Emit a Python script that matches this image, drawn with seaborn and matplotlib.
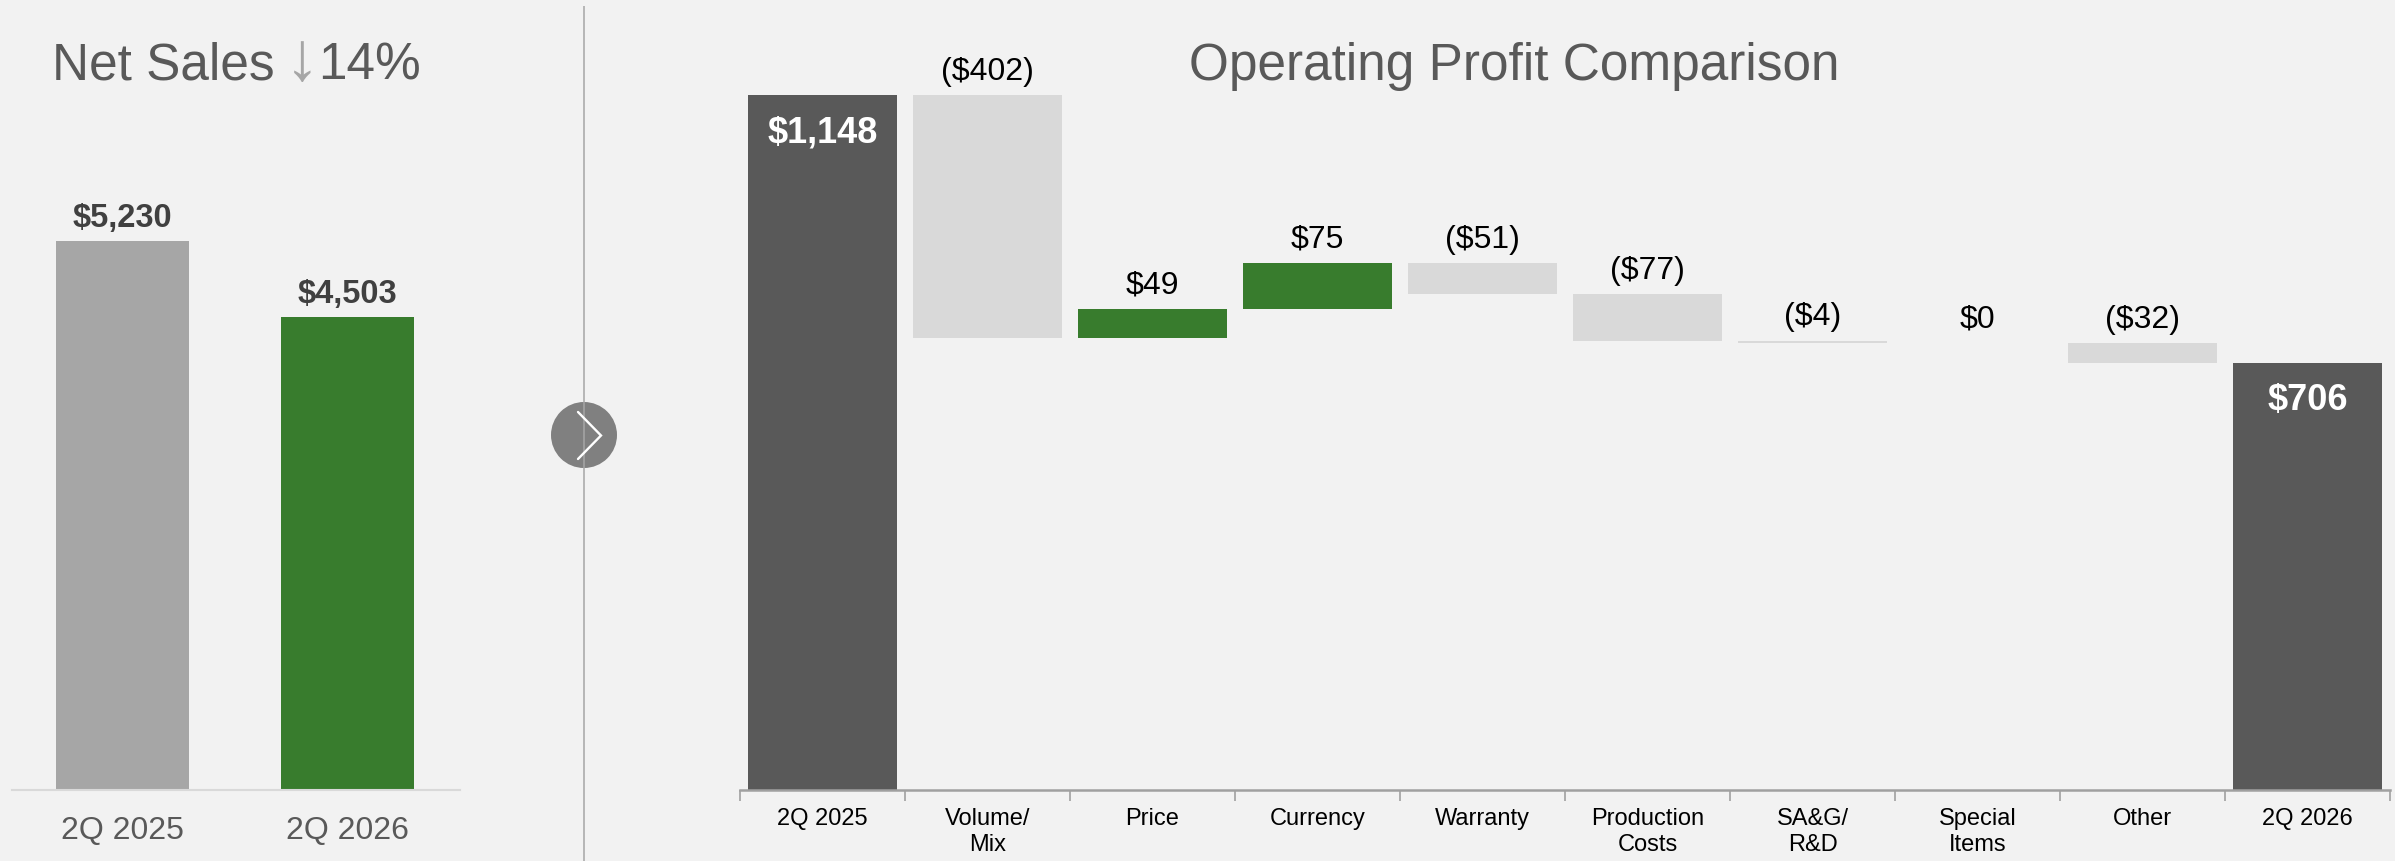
import matplotlib
matplotlib.use("Agg")
import matplotlib.pyplot as plt
import seaborn as sns
import numpy as np
from matplotlib.patches import Circle

# ---------------- data ----------------
sales_periods = ["2Q 2025", "2Q 2026"]
sales_values = [5230, 4503]
sales_labels = ["$5,230", "$4,503"]
sales_title = "Net Sales "
sales_arrow = "\u2193"
sales_change = "14%"

op_title = "Operating Profit Comparison"
op_categories = ["2Q 2025", "Volume/\nMix", "Price", "Currency", "Warranty",
                 "Production\nCosts", "SA&G/\nR&D", "Special\nItems", "Other", "2Q 2026"]
op_values = [1148, -402, 49, 75, -51, -77, -4, 0, -32, 706]
op_labels = ["$1,148", "($402)", "$49", "$75", "($51)", "($77)", "($4)", "$0", "($32)", "$706"]
op_kind = ["total", "delta", "delta", "delta", "delta", "delta", "delta", "delta", "delta", "total"]

# ---------------- style ----------------
W, H, DPI = 2395, 861, 100
BG = "#F2F2F2"
GREEN = "#387C2D"
DARK = "#595959"
LIGHT = "#D9D9D9"
MID = "#A6A6A6"

sns.set_theme(style="white")
plt.rcParams['font.family'] = ['Liberation Sans', 'DejaVu Sans']

fig = plt.figure(figsize=(W / DPI, H / DPI), dpi=DPI, facecolor=BG)


def px_axes(x0, x1, ytop, ybot):
    return fig.add_axes([x0 / W, 1 - ybot / H, (x1 - x0) / W, (ybot - ytop) / H])


# ---------------- left: net sales ----------------
ax1 = px_axes(12, 460, 0, 790)
ax1.set_facecolor("none")
sns.barplot(x=sales_periods, y=sales_values, hue=sales_periods,
            palette=[MID, GREEN], saturation=1, legend=False, width=0.59,
            errorbar=None, linewidth=0, ax=ax1)
ax1.set_xlim(-0.49, 1.5)
ax1.set_ylim(0, 7526)
ax1.set_yticks([])
ax1.set_xlabel("")
ax1.set_ylabel("")
for s in ["left", "top", "right"]:
    ax1.spines[s].set_visible(False)
ax1.spines["bottom"].set_color(LIGHT)
ax1.spines["bottom"].set_linewidth(1.5)
ax1.tick_params(axis="x", length=0, pad=19, labelsize=23, labelcolor=DARK)
for i, (v, lab) in enumerate(zip(sales_values, sales_labels)):
    ax1.annotate(lab, (i, v), xytext=(0, 5), textcoords="offset points",
                 ha="center", va="bottom", fontsize=23.5, fontweight="bold",
                 color="#404040")

# ---------------- right: operating profit waterfall ----------------
bottoms, heights, colors, tops = [], [], [], []
running = 0
for v, k in zip(op_values, op_kind):
    if k == "total":
        bottoms.append(0)
        heights.append(v)
        colors.append(DARK)
        tops.append(v)
        running = v
    else:
        new = running + v
        bottoms.append(min(running, new))
        heights.append(abs(v))
        colors.append(GREEN if v > 0 else LIGHT)
        tops.append(max(running, new))
        running = new

ax2 = px_axes(740, 2390, 0, 790)
ax2.set_facecolor("none")
sns.barplot(x=op_categories, y=heights, bottom=bottoms, width=0.9,
            errorbar=None, color=LIGHT, saturation=1, linewidth=0, ax=ax2)
for p, c in zip(ax2.patches, colors):
    p.set_facecolor(c)
ax2.set_xlim(-0.5, 9.5)
ax2.set_ylim(0, 1305)
ax2.set_yticks([])
ax2.set_xlabel("")
ax2.set_ylabel("")
for s in ["left", "top", "right"]:
    ax2.spines[s].set_visible(False)
ax2.spines["bottom"].set_color("#A0A0A0")
ax2.spines["bottom"].set_linewidth(1.8)
ax2.set_xticks(np.arange(-0.5, 10, 1))
ax2.set_xticklabels([])
ax2.set_xticks(np.arange(len(op_categories)), minor=True)
ax2.set_xticklabels(op_categories, minor=True)
ax2.tick_params(axis="x", which="major", bottom=True, length=8, width=1.2,
                color="#A0A0A0", direction="out")
ax2.tick_params(axis="x", which="minor", bottom=True, length=0, pad=13,
                labelsize=17, labelcolor="#000000")
for t in ax2.get_xticklabels(minor=True):
    t.set_linespacing(1.25)

for i, (lab, k, top) in enumerate(zip(op_labels, op_kind, tops)):
    if k == "total":
        ax2.annotate(lab, (i, top), xytext=(0, -27), textcoords="offset points",
                     ha="center", va="center", fontsize=26, fontweight="bold",
                     color="white")
    else:
        ax2.annotate(lab, (i, top), xytext=(0, 6), textcoords="offset points",
                     ha="center", va="bottom", fontsize=23, color="#000000")

# ---------------- titles ----------------
base_y = 1 - 80 / H
t1 = fig.text(52 / W, base_y, sales_title, fontsize=37, color=DARK, ha="left",
              va="baseline")
fig.canvas.draw()
r = fig.canvas.get_renderer()
bb = t1.get_window_extent(r)
t2 = fig.text(bb.x1 / W - 4 / W, base_y, sales_arrow, fontsize=50, color=MID,
              ha="left", va="baseline")
bb2 = t2.get_window_extent(r)
fig.text(bb2.x1 / W - 2 / W, base_y, sales_change, fontsize=37, color=DARK,
         ha="left", va="baseline")

fig.text(1514 / W, base_y, op_title, fontsize=37, color=DARK, ha="center",
         va="baseline")

# ---------------- separator with chevron ----------------
axo = fig.add_axes([0, 0, 1, 1], zorder=5)
axo.set_xlim(0, W)
axo.set_ylim(H, 0)
axo.axis("off")
axo.patch.set_alpha(0)
axo.plot([584, 584], [6, H], color=MID, lw=1.1, solid_capstyle="butt")
axo.add_patch(Circle((584, 435), 33, facecolor="#808080", edgecolor="none"))
axo.plot([578, 601, 578], [412, 435.5, 459], color="white", lw=1.7,
         solid_joinstyle="miter")

fig.savefig("out.png", dpi=DPI, facecolor=BG)
